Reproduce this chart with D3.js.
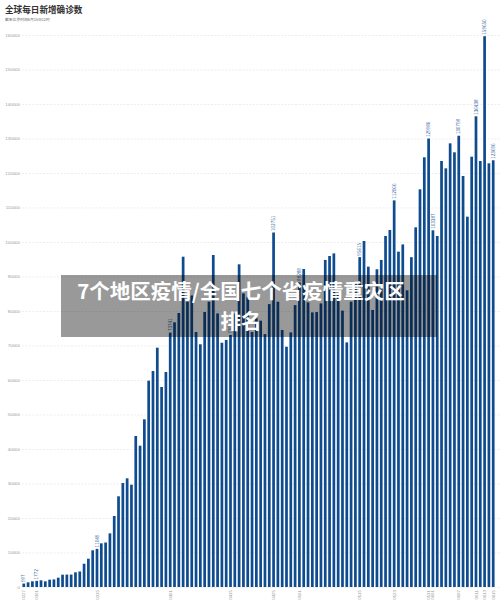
<!DOCTYPE html>
<html><head><meta charset="utf-8">
<script src="https://cdn.jsdelivr.net/npm/d3@7"></script>
<style>
body{margin:0;background:#fff;}
svg{display:block;font-family:"Noto Sans CJK SC","Noto Sans",sans-serif;}
</style>
</head><body>
<svg id="c" width="500" height="613"></svg>
<script>
const febDates = ["0227","0228","0229"];
const marDates = ["0301","0302","0303","0304","0305","0306","0307","0308","0309","0310","0311","0312","0313","0314","0315","0316","0317","0318","0319","0320","0321","0322","0323","0324","0325","0326","0327","0328","0329","0330","0331"];
const aprDates = ["0401","0402","0403","0404","0405","0406","0407","0408","0409","0410","0411","0412","0413","0414","0415","0416","0417","0418","0419","0420","0421","0422","0423","0424","0425","0426","0427","0428","0429","0430"];
const mayDates = ["0501","0502","0503","0504","0505","0506","0507","0508","0509","0510","0511","0512","0513","0514","0515","0516","0517","0518","0519","0520","0521","0522","0523","0524","0525","0526","0527","0528","0529","0530","0531"];
const junDates = ["0601","0602","0603","0604","0605","0606","0607","0608","0609","0610","0611","0612","0613","0614","0615"];
const dates = febDates.concat(marDates, aprDates, mayDates, junDates);

const newCases = [
  997,1360,1650,1772,1940,1650,2120,2200,2700,3570,
  3600,3600,4250,4500,6750,8200,10640,11049,12660,12900,
  15550,20580,26290,30140,31500,29650,43770,40960,48600,59800,
  62600,69370,57970,62320,73741,76720,79420,95740,82700,84500,
  73900,70350,79700,82700,96230,79300,70800,71600,73043,79300,
  93530,85100,84100,73900,77900,77200,73300,82000,102751,82700,
  74500,69650,73800,81700,88288,92170,82500,79600,79700,82200,
  94800,95940,96700,84900,80100,70900,82700,88000,95615,100290,
  92850,80300,92100,94800,101740,103480,112066,97200,99300,86000,
  95600,104250,115270,124550,129986,103387,101740,123480,121350,128600,
  126000,130798,119130,107340,124730,136438,123480,159650,122800,123696
];

const tickDates = ["0227","0301","0315","0401","0415","0425","0501","0515","0523","0531","0601","0607","0611","0613","0615"];
const yTickValues = [0,10000,20000,30000,40000,50000,60000,70000,80000,90000,100000,110000,120000,130000,140000,150000,160000];

const titleText = "全球每日新增确诊数";
const subtitleText = "截至北京时间6月15日12时";
const overlayLines = ["7个地区疫情/全国七个省疫情重灾区", "排名"];

const svg = d3.select("#c");
const data = dates.map((d,i)=>({date:d, value:newCases[i]}));

const x = d3.scaleBand().domain(dates).range([22, 495]).paddingInner(0.37).paddingOuter(0.1);
const y = d3.scaleLinear().domain([0,160000]).range([587,35]);

// title
svg.append("text").attr("x",5).attr("y",13).attr("font-size",8.6).attr("font-weight","bold")
  .attr("fill","#333").text(titleText);
svg.append("text").attr("x",5).attr("y",20.5).attr("font-size",3.8)
  .attr("fill","#666").text(subtitleText);

// y axis with gridlines
const yAxis = svg.append("g").attr("transform","translate(22,0)")
  .call(d3.axisLeft(y).tickValues(yTickValues).tickSize(-478).tickPadding(2).tickFormat(d3.format("d")));
yAxis.select(".domain").remove();
yAxis.selectAll(".tick line").attr("stroke","#e2e2e2").attr("stroke-dasharray","2,1.5").attr("stroke-width",0.6);
yAxis.selectAll(".tick text").attr("font-size",4.4).attr("fill","#9a9a9a");

// bars
svg.append("g").selectAll("rect").data(data).join("rect")
  .attr("x",d=>x(d.date)).attr("width",x.bandwidth())
  .attr("y",d=>y(d.value)).attr("height",d=>y(0)-y(d.value))
  .attr("fill","#0f4c8f");

// bar labels for ticked dates
svg.append("g").selectAll("text").data(data.filter(d=>tickDates.includes(d.date))).join("text")
  .attr("transform",d=>`translate(${x(d.date)+x.bandwidth()/2},${y(d.value)-1.5}) rotate(-90)`)
  .attr("dy","0.35em").attr("text-anchor","start")
  .attr("font-size",4.6).attr("fill","#3b6aa0").text(d=>d.value);

// x axis
const xAxis = svg.append("g").attr("transform","translate(0,587)")
  .call(d3.axisBottom(x).tickValues(tickDates).tickSize(0));
xAxis.select(".domain").remove();
xAxis.selectAll(".tick text")
  .attr("transform","rotate(-90)").attr("text-anchor","end")
  .attr("x",-3).attr("y",0).attr("dy","0.35em")
  .attr("font-size",4.4).attr("fill","#9a9a9a");

// overlay
svg.append("rect").attr("x",61).attr("y",275).attr("width",376).attr("height",62)
  .attr("fill","rgba(0,0,0,0.4)");
overlayLines.forEach((t,i)=>{
  svg.append("text").attr("x",241).attr("y",299 + i*30)
    .attr("text-anchor","middle").attr("font-size",20.5).attr("font-weight","bold")
    .attr("fill","#fff").text(t);
});
</script>
</body></html>
